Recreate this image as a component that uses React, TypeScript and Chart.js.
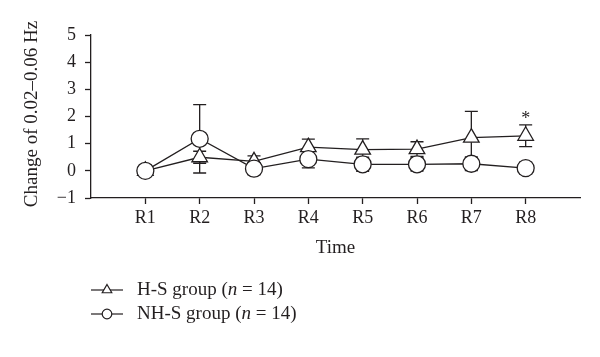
import React, { useEffect, useRef } from "react";
import { Chart, registerables } from "chart.js";

Chart.register(...registerables);

const categories = ["R1", "R2", "R3", "R4", "R5", "R6", "R7", "R8"];
const hsMean = [0, 0.5, 0.35, 0.87, 0.78, 0.8, 1.22, 1.29];
const hsErr = [0.05, 0.22, 0.2, 0.3, 0.4, 0.27, 0.97, 0.4];
const nhsMean = [0, 1.18, 0.08, 0.43, 0.24, 0.24, 0.26, 0.1];
const nhsErr = [0.05, 1.26, 0.22, 0.32, 0.26, 0.25, 0.25, 0.22];
const yTicks = [-1, 0, 1, 2, 3, 4, 5];
const legendLabels = ["H-S group (", "NH-S group ("];
const significant = [false, false, false, false, false, false, false, true];

const INK = "#231f20";
const FONT = "'Liberation Serif', 'Times New Roman', serif";

export default function App() {
  const ref = useRef<HTMLCanvasElement | null>(null);

  useEffect(() => {
    if (!ref.current) return;
    const toXY = (m: number[]) => m.map((v, i) => ({ x: i + 1, y: v }));

    const overlay = {
      id: "overlay",
      beforeDatasetsDraw(chart: any) {
        const ctx = chart.ctx;
        const xs = chart.scales.x;
        const ys = chart.scales.y;
        ctx.save();
        ctx.strokeStyle = INK;
        ctx.lineWidth = 1.3;
        const series = [
          [hsMean, hsErr],
          [nhsMean, nhsErr],
        ];
        series.forEach(([m, e]) => {
          m.forEach((v, i) => {
            const x = xs.getPixelForValue(i + 1);
            const yt = ys.getPixelForValue(v + e[i]);
            const yb = ys.getPixelForValue(v - e[i]);
            ctx.beginPath();
            ctx.moveTo(x, yt);
            ctx.lineTo(x, yb);
            ctx.moveTo(x - 6.5, yt);
            ctx.lineTo(x + 6.5, yt);
            ctx.moveTo(x - 6.5, yb);
            ctx.lineTo(x + 6.5, yb);
            ctx.stroke();
          });
        });
        ctx.restore();
      },
      afterDraw(chart: any) {
        const ctx = chart.ctx;
        const xs = chart.scales.x;
        const ys = chart.scales.y;
        ctx.save();
        ctx.fillStyle = INK;
        ctx.strokeStyle = INK;
        // asterisks
        ctx.font = `18px ${FONT}`;
        ctx.textAlign = "center";
        ctx.textBaseline = "middle";
        significant.forEach((s, i) => {
          if (!s) return;
          const x = xs.getPixelForValue(i + 1);
          const y = ys.getPixelForValue(hsMean[i] + hsErr[i]) - 10;
          ctx.fillText("*", x, y + 4);
        });
        // x title
        ctx.font = `19px ${FONT}`;
        ctx.fillText("Time", (xs.left + xs.right) / 2, 248);
        // y title
        ctx.save();
        ctx.translate(32, 114);
        ctx.rotate(-Math.PI / 2);
        ctx.fillText("Change of 0.02\u20130.06 Hz", 0, 0);
        ctx.restore();
        // legend
        const rows = [290, 314];
        rows.forEach((y, idx) => {
          ctx.lineWidth = 1.2;
          ctx.beginPath();
          ctx.moveTo(91, y);
          ctx.lineTo(123, y);
          ctx.stroke();
          const cx = 107;
          ctx.fillStyle = "#fff";
          ctx.beginPath();
          if (idx === 0) {
            const r = 5.5;
            let rad = 0;
            ctx.moveTo(cx + Math.sin(rad) * r, y - Math.cos(rad) * r);
            rad += (2 * Math.PI) / 3;
            ctx.lineTo(cx + Math.sin(rad) * r, y - Math.cos(rad) * r);
            rad += (2 * Math.PI) / 3;
            ctx.lineTo(cx + Math.sin(rad) * r, y - Math.cos(rad) * r);
            ctx.closePath();
          } else {
            ctx.arc(cx, y, 4.8, 0, Math.PI * 2);
          }
          ctx.fill();
          ctx.stroke();
          ctx.fillStyle = INK;
          ctx.textAlign = "left";
          ctx.textBaseline = "middle";
          let x = 137;
          ctx.font = `19px ${FONT}`;
          const t1 = legendLabels[idx];
          ctx.fillText(t1, x, y);
          x += ctx.measureText(t1).width;
          ctx.font = `italic 19px ${FONT}`;
          ctx.fillText("n", x, y);
          x += ctx.measureText("n").width;
          ctx.font = `19px ${FONT}`;
          ctx.fillText(" = 14)", x, y);
        });
        ctx.restore();
      },
    };

    const chart = new Chart(ref.current, {
      type: "line",
      data: {
        datasets: [
          {
            label: "NH-S group",
            data: toXY(nhsMean),
            borderColor: INK,
            borderWidth: 1.3,
            backgroundColor: "#fff",
            pointStyle: "circle",
            pointRadius: 8.5,
            pointBorderWidth: 1.3,
            pointBorderColor: INK,
            pointBackgroundColor: "#fff",
            tension: 0,
          },
          {
            label: "H-S group",
            data: toXY(hsMean),
            borderColor: INK,
            borderWidth: 1.3,
            backgroundColor: "#fff",
            pointStyle: "triangle",
            pointRadius: 9,
            pointBorderWidth: 1.3,
            pointBorderColor: INK,
            pointBackgroundColor: "#fff",
            tension: 0,
          },
        ],
      },
      options: {
        responsive: false,
        animation: false,
        layout: { padding: { top: 35, right: 20, left: 0, bottom: 0 } },
        plugins: { legend: { display: false }, tooltip: { enabled: false } },
        scales: {
          x: {
            type: "linear",
            min: 0,
            max: 9,
            afterBuildTicks: (s: any) => {
              s.ticks = categories.map((_, i) => ({ value: i + 1 }));
            },
            afterFit: (s: any) => {
              s.height = 159;
            },
            grid: { drawOnChartArea: false, tickLength: 6, color: INK, tickWidth: 1.3 },
            border: { color: INK, width: 1.3 },
            ticks: {
              color: INK,
              font: { family: FONT, size: 18 },
              padding: 3,
              autoSkip: false,
              maxRotation: 0,
              callback: (v: any) => categories[Number(v) - 1] ?? "",
            },
          },
          y: {
            min: -1,
            max: 5,
            afterBuildTicks: (s: any) => {
              s.ticks = yTicks.map((v) => ({ value: v }));
            },
            afterFit: (s: any) => {
              s.width = 91;
            },
            grid: { drawOnChartArea: false, tickLength: 6, color: INK, tickWidth: 1.3 },
            border: { color: INK, width: 1.3 },
            ticks: {
              color: INK,
              font: { family: FONT, size: 18 },
              padding: 9,
              callback: (v: any) => (Number(v) < 0 ? "\u22121" : String(v)),
            },
          },
        },
      },
      plugins: [overlay],
    } as any);
    return () => chart.destroy();
  }, []);

  return (
    <div style={{ position: "fixed", left: 0, top: 0, width: 600, height: 357, background: "#fff" }}>
      <canvas ref={ref} width={600} height={357} />
    </div>
  );
}
